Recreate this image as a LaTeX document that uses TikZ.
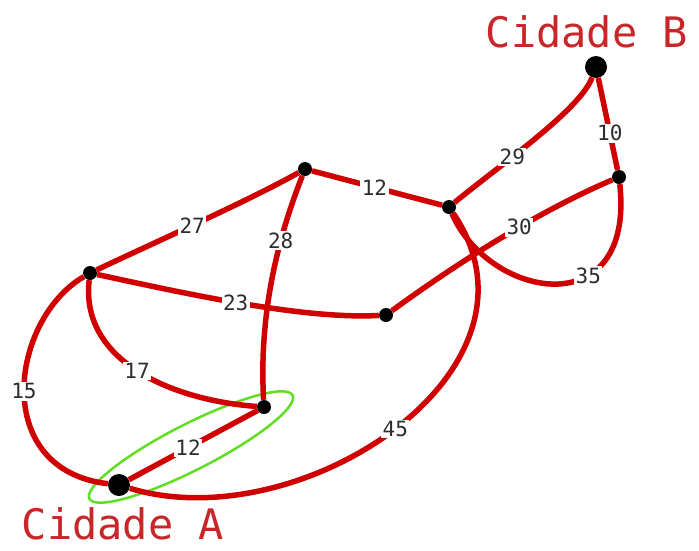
\documentclass[tikz,border=0pt]{standalone}
\usepackage{fontspec}
\newfontfamily\monof{DejaVu Sans Mono}
\usetikzlibrary{shapes.geometric}
\definecolor{roadred}{RGB}{208,0,0}
\definecolor{cityred}{RGB}{200,38,40}
\definecolor{ringgreen}{RGB}{96,222,34}
\definecolor{labelgray}{RGB}{45,45,45}
\begin{document}
\begin{tikzpicture}[x=1pt,y=-1pt,
 road/.style={draw=roadred, line width=5.5pt},
 lbl/.style={fill=white, text=labelgray, font=\monof\fontsize{21}{21}\selectfont, inner sep=1.5pt},
 city/.style={text=cityred, font=\monof\fontsize{42}{42}\selectfont, inner sep=0pt, text depth=0pt, anchor=base},
 bigdot/.style={circle, fill=black, minimum size=22pt, inner sep=0pt},
 smalldot/.style={circle, fill=black, minimum size=14pt, inner sep=0pt}]
\useasboundingbox (0,0) rectangle (699,550);
% nodes
\node[bigdot] (B) at (596,67) {};
\node[smalldot] (N1) at (619,177) {};
\node[smalldot] (N2) at (449,207) {};
\node[smalldot] (N3) at (305,169) {};
\node[smalldot] (N4) at (90,273) {};
\node[smalldot] (N5) at (386,315) {};
\node[smalldot] (N6) at (264,407) {};
\node[bigdot] (A) at (119,485) {};
\node[city] (cb) at (587,47) {Cidade B};
\node[city] (ca) at (123,539) {Cidade A};
% highlight
\node[ellipse, draw=ringgreen, line width=2.5pt, minimum width=228pt, minimum height=46pt, rotate=27] (ring) at (191,447) {};
% roads
\draw[road] (B) .. controls (580,110) and (500,165) .. (N2) node[lbl, pos=0.64] {29};
\draw[road] (B) -- (N1) node[lbl, pos=0.6] {10};
\draw[road] (N3) -- (N2) node[lbl, pos=0.48] {12};
\draw[road] (N4) .. controls (160,240) and (250,200) .. (N3) node[lbl, pos=0.45] {27};
\draw[road] (N3) .. controls (285,220) and (258,300) .. (N6) node[lbl, pos=0.38] {28};
\draw[road] (N4) .. controls (170,290) and (300,320) .. (N5) node[lbl, pos=0.5] {23};
\draw[road] (N5) .. controls (445,272) and (530,215) .. (N1) node[lbl, pos=0.62] {30};
\draw[road] (N2) .. controls (490,300) and (635,325) .. (N1) node[lbl, pos=0.65] {35};
\draw[road] (N4) .. controls (80,360) and (170,400) .. (N6) node[lbl, pos=0.5] {17};
\draw[road] (N4) .. controls (10,320) and (-10,470) .. (A) node[lbl, pos=0.5] {15};
\draw[road] (A) -- (N6) node[lbl, pos=0.46] {12};
\draw[road] (A) .. controls (300,540) and (560,370) .. (N2) node[lbl, pos=0.5] {45};
\end{tikzpicture}
\end{document}
